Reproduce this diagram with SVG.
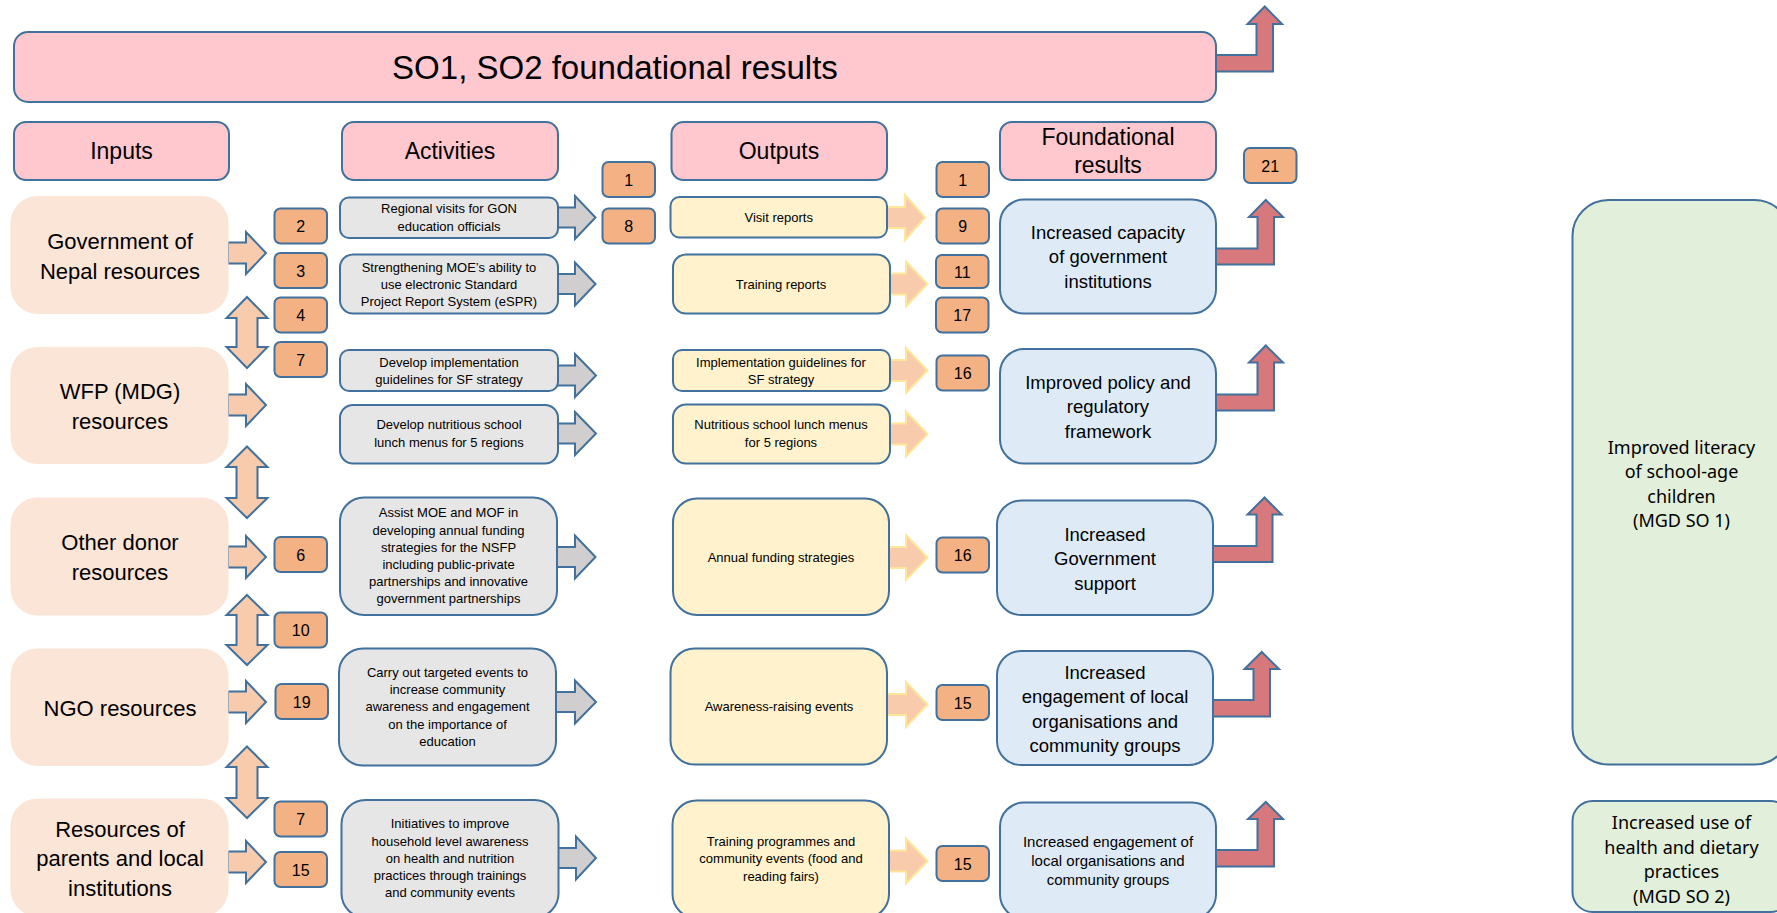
<svg xmlns="http://www.w3.org/2000/svg" width="1777" height="913" viewBox="0 0 1777 913">
<style>
.pink{fill:#FFC7CE;stroke:#41719C;stroke-width:2}
.inp{fill:#FBE5D6}
.badge{fill:#F4B183;stroke:#41719C;stroke-width:2}
.act{fill:#E7E6E6;stroke:#41719C;stroke-width:2}
.out{fill:#FFF2CC;stroke:#41719C;stroke-width:2}
.fr{fill:#DEEBF7;stroke:#41719C;stroke-width:2}
.grn{fill:#E2EFDA;stroke:#41719C;stroke-width:2}
.arI{fill:#F8CBAD;stroke:#41719C;stroke-width:2}
.arO{fill:#F8CBAD;stroke:#FFE699;stroke-width:2}
.arG{fill:#D0CECE;stroke:#41719C;stroke-width:2}
.arR{fill:#D6787C;stroke:#41719C;stroke-width:2}
text{font-family:"Liberation Sans",Arial,sans-serif;fill:#000;text-anchor:middle}
.t33{font-size:33px}
.t23{font-size:23px}
.t22{font-size:22px}
.t18{font-size:18.5px}
.t15{font-size:15px}
.t13{font-size:13px}
.tb{font-size:16px}
.tg{font-family:"Noto Sans","DejaVu Sans",sans-serif;font-size:18px}
</style>

<g id="connectors">
  <!-- input right arrows -->
  <polygon class="arI" points="228,242.5 246,242.5 246,232 266,253 246,274 246,263.5 228,263.5"/>
  <polygon class="arI" points="228,394.5 246,394.5 246,384 266,405 246,426 246,415.5 228,415.5"/>
  <polygon class="arI" points="228,546.5 246,546.5 246,536 266,557 246,578 246,567.5 228,567.5"/>
  <polygon class="arI" points="228,691.5 246,691.5 246,681 266,702 246,723 246,712.5 228,712.5"/>
  <polygon class="arI" points="228,851.5 246,851.5 246,841 266,862 246,883 246,872.5 228,872.5"/>
  <!-- vertical double arrows -->
  <polygon class="arI" points="247,297 267.5,318 257.5,318 257.5,347 267.5,347 247,368 226.5,347 236.5,347 236.5,318 226.5,318"/>
  <polygon class="arI" points="247,446.5 267.5,467 257.5,467 257.5,498 267.5,498 247,518 226.5,498 236.5,498 236.5,467 226.5,467"/>
  <polygon class="arI" points="247,595 267.5,615 257.5,615 257.5,645 267.5,645 247,665 226.5,645 236.5,645 236.5,615 226.5,615"/>
  <polygon class="arI" points="247,746.5 267.5,767 257.5,767 257.5,798 267.5,798 247,818 226.5,798 236.5,798 236.5,767 226.5,767"/>
  <!-- activity arrows -->
  <polygon class="arG" points="557,207.5 575,207.5 575,196 595.5,217.5 575,239 575,227.5 557,227.5"/>
  <polygon class="arG" points="557,274 575,274 575,262.5 595.5,284 575,305.5 575,294 557,294"/>
  <polygon class="arG" points="557,365.5 575,365.5 575,354 596,375.5 575,397 575,385.5 557,385.5"/>
  <polygon class="arG" points="557,423.5 575,423.5 575,412 596,433.5 575,455 575,443.5 557,443.5"/>
  <polygon class="arG" points="556,547 575,547 575,535.5 595.5,557 575,578.5 575,567 556,567"/>
  <polygon class="arG" points="555,692 575,692 575,680.5 596,702 575,723.5 575,712 555,712"/>
  <polygon class="arG" points="558,848 576,848 576,836.5 596,858 576,879.5 576,868 558,868"/>
  <!-- output arrows -->
  <polygon class="arO" points="886,207 905,207 905,195 925,217.5 905,240 905,228 886,228"/>
  <polygon class="arO" points="889,273.5 906,273.5 906,261.5 927.5,284 906,306.5 906,294.5 889,294.5"/>
  <polygon class="arO" points="889,360 906,360 906,348 927.5,370.5 906,393 906,381 889,381"/>
  <polygon class="arO" points="889,423.5 906,423.5 906,411.5 927.5,434 906,456.5 906,444.5 889,444.5"/>
  <polygon class="arO" points="888,547 906,547 906,535 927.5,557.5 906,580 906,568 888,568"/>
  <polygon class="arO" points="886,694 906,694 906,682 927.5,704.5 906,727 906,715 886,715"/>
  <polygon class="arO" points="888,850.5 906,850.5 906,838.5 927.5,861 906,883.5 906,871.5 888,871.5"/>
  <!-- red bent arrows -->
  <polygon class="arR" points="1214,71.5 1273,71.5 1273,24 1282,24 1264.75,6.5 1247.5,24 1256.5,24 1256.5,55 1214,55"/>
  <polygon class="arR" points="1214,264.5 1274,264.5 1274,217 1283,217 1265.75,200 1249,217 1257.5,217 1257.5,248.5 1214,248.5"/>
  <polygon class="arR" points="1214,410.5 1274,410.5 1274,362.5 1283,362.5 1265.75,345.5 1249,362.5 1257.5,362.5 1257.5,394.5 1214,394.5"/>
  <polygon class="arR" points="1211,562 1272.5,562 1272.5,514.5 1281.5,514.5 1264.5,497.5 1247.5,514.5 1256.5,514.5 1256.5,546 1211,546"/>
  <polygon class="arR" points="1211,716.5 1270,716.5 1270,669 1279,669 1261.75,652 1244.5,669 1253.5,669 1253.5,700 1211,700"/>
  <polygon class="arR" points="1214,866.5 1274,866.5 1274,819 1283,819 1265.75,802 1248,819 1257.5,819 1257.5,850 1214,850"/>
</g>

<g id="title"><rect class="pink" x="14" y="32" width="1202" height="70" rx="14"/><text class="t33" x="615" y="79">SO1, SO2 foundational results</text></g>

<g id="hdr-inputs"><rect class="pink" x="14" y="122" width="215" height="58" rx="12"/><text class="t23" x="121.5" y="159">Inputs</text></g>
<g id="hdr-activities"><rect class="pink" x="342" y="122" width="216" height="58" rx="12"/><text class="t23" x="450" y="159">Activities</text></g>
<g id="hdr-outputs"><rect class="pink" x="671.5" y="122" width="215.5" height="58" rx="12"/><text class="t23" x="779" y="159">Outputs</text></g>
<g id="hdr-foundational"><rect class="pink" x="1000" y="122" width="216" height="58" rx="12"/><text class="t23" x="1108" y="145">Foundational</text><text class="t23" x="1108" y="173">results</text></g>

<g id="in-gon"><rect class="inp" x="10.5" y="196" width="218" height="118" rx="27"/><text class="t22" x="120" y="248.5">Government of</text><text class="t22" x="120" y="278.5">Nepal resources</text></g>
<g id="in-wfp"><rect class="inp" x="10.5" y="347" width="218" height="117" rx="27"/><text class="t22" x="120" y="398.5">WFP (MDG)</text><text class="t22" x="120" y="428.5">resources</text></g>
<g id="in-donor"><rect class="inp" x="10.5" y="497.5" width="218" height="118" rx="27"/><text class="t22" x="120" y="550">Other donor</text><text class="t22" x="120" y="579.5">resources</text></g>
<g id="in-ngo"><rect class="inp" x="10.5" y="648.5" width="218" height="117.5" rx="27"/><text class="t22" x="120" y="715.5">NGO resources</text></g>
<g id="in-parents"><rect class="inp" x="10.5" y="798.5" width="218" height="118" rx="27"/><text class="t22" x="120" y="836.5">Resources of</text><text class="t22" x="120" y="866">parents and local</text><text class="t22" x="120" y="895.5">institutions</text></g>

<g id="b-2"><rect class="badge" x="274.5" y="208.5" width="52.5" height="35" rx="6"/><text class="tb" x="300.75" y="232">2</text></g>
<g id="b-3"><rect class="badge" x="274.5" y="253" width="52.5" height="35" rx="6"/><text class="tb" x="300.75" y="276.5">3</text></g>
<g id="b-4"><rect class="badge" x="274.5" y="297.5" width="52.5" height="35" rx="6"/><text class="tb" x="300.75" y="321">4</text></g>
<g id="b-7a"><rect class="badge" x="274.5" y="342" width="52.5" height="35" rx="6"/><text class="tb" x="300.75" y="365.5">7</text></g>
<g id="b-6"><rect class="badge" x="274.5" y="537" width="52.5" height="35" rx="6"/><text class="tb" x="300.75" y="560.5">6</text></g>
<g id="b-10"><rect class="badge" x="274.5" y="612.5" width="52.5" height="35" rx="6"/><text class="tb" x="300.75" y="636">10</text></g>
<g id="b-19"><rect class="badge" x="275.5" y="684" width="52.5" height="35" rx="6"/><text class="tb" x="301.75" y="707.5">19</text></g>
<g id="b-7b"><rect class="badge" x="274.5" y="801.5" width="52.5" height="35" rx="6"/><text class="tb" x="300.75" y="825">7</text></g>
<g id="b-15a"><rect class="badge" x="274.5" y="852" width="52.5" height="35" rx="6"/><text class="tb" x="300.75" y="875.5">15</text></g>
<g id="b-1a"><rect class="badge" x="602.5" y="162" width="52.5" height="35" rx="6"/><text class="tb" x="628.75" y="185.5">1</text></g>
<g id="b-8"><rect class="badge" x="602.5" y="208.5" width="52.5" height="35" rx="6"/><text class="tb" x="628.75" y="232">8</text></g>
<g id="b-1b"><rect class="badge" x="936.5" y="162" width="52.5" height="35" rx="6"/><text class="tb" x="962.75" y="185.5">1</text></g>
<g id="b-9"><rect class="badge" x="936.5" y="208.5" width="52.5" height="35" rx="6"/><text class="tb" x="962.75" y="232">9</text></g>
<g id="b-11"><rect class="badge" x="936" y="255" width="52.5" height="33" rx="6"/><text class="tb" x="962.25" y="277.5">11</text></g>
<g id="b-17"><rect class="badge" x="936" y="297.5" width="52.5" height="35" rx="6"/><text class="tb" x="962.25" y="321">17</text></g>
<g id="b-16a"><rect class="badge" x="936.5" y="355.5" width="52.5" height="35" rx="6"/><text class="tb" x="962.75" y="379">16</text></g>
<g id="b-16b"><rect class="badge" x="936.5" y="537.5" width="52.5" height="35" rx="6"/><text class="tb" x="962.75" y="561">16</text></g>
<g id="b-15b"><rect class="badge" x="936.5" y="685" width="52.5" height="35" rx="6"/><text class="tb" x="962.75" y="708.5">15</text></g>
<g id="b-15c"><rect class="badge" x="936.5" y="846" width="52.5" height="35" rx="6"/><text class="tb" x="962.75" y="869.5">15</text></g>
<g id="b-21"><rect class="badge" x="1244" y="148" width="52.5" height="35" rx="6"/><text class="tb" x="1270.25" y="171.5">21</text></g>

<g id="act-1"><rect class="act" x="340" y="197.5" width="218" height="40.5" rx="9"/><text class="t13" x="449" y="213.3">Regional visits for GON</text><text class="t13" x="449" y="230.7">education officials</text></g>
<g id="act-2"><rect class="act" x="340" y="254.5" width="218" height="59" rx="13"/><text class="t13" x="449" y="271.7">Strengthening MOE’s ability to</text><text class="t13" x="449" y="289">use electronic Standard</text><text class="t13" x="449" y="306.2">Project Report System (eSPR)</text></g>
<g id="act-3"><rect class="act" x="340" y="350" width="218" height="41" rx="9"/><text class="t13" x="449" y="366.7">Develop implementation</text><text class="t13" x="449" y="383.5">guidelines for SF strategy</text></g>
<g id="act-4"><rect class="act" x="340" y="405" width="218" height="58.5" rx="13"/><text class="t13" x="449" y="429.3">Develop nutritious school</text><text class="t13" x="449" y="446.7">lunch menus for 5 regions</text></g>
<g id="act-5"><rect class="act" x="340" y="497.5" width="217" height="117.5" rx="24"/><text class="t13" x="448.5" y="517.3">Assist MOE and MOF in</text><text class="t13" x="448.5" y="534.5">developing annual funding</text><text class="t13" x="448.5" y="551.7">strategies for the NSFP</text><text class="t13" x="448.5" y="568.9">including public-private</text><text class="t13" x="448.5" y="586.1">partnerships and innovative</text><text class="t13" x="448.5" y="603.3">government partnerships</text></g>
<g id="act-6"><rect class="act" x="339" y="648.5" width="217" height="117" rx="24"/><text class="t13" x="447.5" y="676.7">Carry out targeted events to</text><text class="t13" x="447.5" y="694">increase community</text><text class="t13" x="447.5" y="711.3">awareness and engagement</text><text class="t13" x="447.5" y="728.6">on the importance of</text><text class="t13" x="447.5" y="745.9">education</text></g>
<g id="act-7"><rect class="act" x="341.5" y="800" width="217" height="117.5" rx="24"/><text class="t13" x="450" y="828.3">Initiatives to improve</text><text class="t13" x="450" y="845.5">household level awareness</text><text class="t13" x="450" y="862.7">on health and nutrition</text><text class="t13" x="450" y="879.9">practices through trainings</text><text class="t13" x="450" y="897.1">and community events</text></g>

<g id="out-1"><rect class="out" x="670.5" y="197" width="216.5" height="40.5" rx="9"/><text class="t13" x="778.7" y="221.5">Visit reports</text></g>
<g id="out-2"><rect class="out" x="673" y="254.5" width="217" height="59" rx="13"/><text class="t13" x="781" y="289">Training reports</text></g>
<g id="out-3"><rect class="out" x="673" y="350" width="217" height="41" rx="9"/><text class="t13" x="781" y="366.7">Implementation guidelines for</text><text class="t13" x="781" y="383.5">SF strategy</text></g>
<g id="out-4"><rect class="out" x="673" y="404.5" width="217" height="59" rx="13"/><text class="t13" x="781" y="429.3">Nutritious school lunch menus</text><text class="t13" x="781" y="446.7">for 5 regions</text></g>
<g id="out-5"><rect class="out" x="673" y="498.5" width="216" height="116.5" rx="24"/><text class="t13" x="781" y="561.7">Annual funding strategies</text></g>
<g id="out-6"><rect class="out" x="670.5" y="648.5" width="216.5" height="116" rx="24"/><text class="t13" x="779" y="710.7">Awareness-raising events</text></g>
<g id="out-7"><rect class="out" x="672.5" y="800.5" width="216.5" height="117.5" rx="24"/><text class="t13" x="781" y="846">Training programmes and</text><text class="t13" x="781" y="863.3">community events (food and</text><text class="t13" x="781" y="880.5">reading fairs)</text></g>

<g id="fr-1"><rect class="fr" x="1000" y="199.5" width="216" height="114" rx="24"/><text class="t18" x="1108" y="238.5">Increased capacity</text><text class="t18" x="1108" y="263">of government</text><text class="t18" x="1108" y="287.5">institutions</text></g>
<g id="fr-2"><rect class="fr" x="1000" y="349" width="216" height="114.5" rx="24"/><text class="t18" x="1108" y="388.5">Improved policy and</text><text class="t18" x="1108" y="413">regulatory</text><text class="t18" x="1108" y="437.5">framework</text></g>
<g id="fr-3"><rect class="fr" x="997" y="500.5" width="216" height="114.5" rx="24"/><text class="t18" x="1105" y="540.5">Increased</text><text class="t18" x="1105" y="565">Government</text><text class="t18" x="1105" y="589.5">support</text></g>
<g id="fr-4"><rect class="fr" x="997" y="651" width="216" height="114" rx="24"/><text class="t18" x="1105" y="678.5">Increased</text><text class="t18" x="1105" y="703">engagement of local</text><text class="t18" x="1105" y="727.5">organisations and</text><text class="t18" x="1105" y="752">community groups</text></g>
<g id="fr-5"><rect class="fr" x="1000" y="802.5" width="216" height="116" rx="24"/><text class="t15" x="1108" y="846.5">Increased engagement of</text><text class="t15" x="1108" y="865.5">local organisations and</text><text class="t15" x="1108" y="884.5">community groups</text></g>

<g id="so-1"><rect class="grn" x="1572.5" y="200" width="218" height="564.5" rx="36"/><text class="tg" x="1681.5" y="453.5">Improved literacy</text><text class="tg" x="1681.5" y="478">of school-age</text><text class="tg" x="1681.5" y="502.5">children</text><text class="tg" x="1681.5" y="527">(MGD SO 1)</text></g>
<g id="so-2"><rect class="grn" x="1572.5" y="801" width="218" height="111" rx="20"/><text class="tg" x="1681.5" y="829">Increased use of</text><text class="tg" x="1681.5" y="853.5">health and dietary</text><text class="tg" x="1681.5" y="878">practices</text><text class="tg" x="1681.5" y="902.5">(MGD SO 2)</text></g>
</svg>
